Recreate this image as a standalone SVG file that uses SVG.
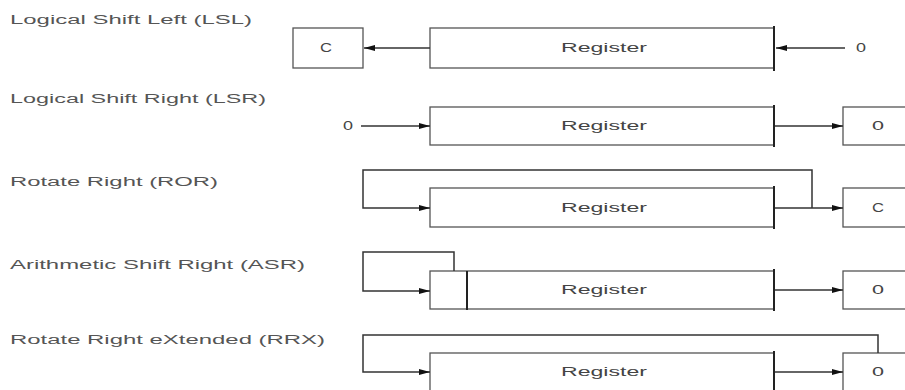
<svg xmlns="http://www.w3.org/2000/svg" width="905" height="390" viewBox="0 0 905 390">
<style>
.lbl{font-family:"Liberation Sans",Arial,sans-serif;font-size:12.5px;fill:#555;}
.reg{font-family:"Liberation Sans",Arial,sans-serif;font-size:12.5px;fill:#444;text-anchor:middle;}
.box{fill:#fff;stroke:#555;stroke-width:1.3;}
.edge{stroke:#222;stroke-width:2;}
.ln{fill:none;stroke:#333;stroke-width:1.3;}
.lp{fill:none;stroke:#333;stroke-width:1.5;}
</style>
<defs>
<marker id="ah" markerUnits="userSpaceOnUse" markerWidth="11" markerHeight="7" refX="11" refY="3.5" orient="auto">
<path d="M0,0.5 L11,3.5 L0,6.5 z" fill="#111"/>
</marker>
</defs>
<rect width="905" height="390" fill="#fff"/>

<g id="labels">
<text class="lbl" x="10" y="24" textLength="242" lengthAdjust="spacingAndGlyphs">Logical Shift Left (LSL)</text>
<text class="lbl" x="10" y="103" textLength="256" lengthAdjust="spacingAndGlyphs">Logical Shift Right (LSR)</text>
<text class="lbl" x="10" y="186" textLength="208" lengthAdjust="spacingAndGlyphs">Rotate Right (ROR)</text>
<text class="lbl" x="10" y="269" textLength="295" lengthAdjust="spacingAndGlyphs">Arithmetic Shift Right (ASR)</text>
<text class="lbl" x="10" y="344" textLength="315" lengthAdjust="spacingAndGlyphs">Rotate Right eXtended (RRX)</text>
</g>

<g id="lsl">
<rect class="box" x="293" y="28" width="70" height="40"/>
<text class="reg" x="326" y="52" textLength="12" lengthAdjust="spacingAndGlyphs">C</text>
<rect class="box" x="430" y="28" width="344" height="40"/>
<line class="edge" x1="774" y1="26" x2="774" y2="71"/>
<text class="reg" x="604" y="52" textLength="86" lengthAdjust="spacingAndGlyphs">Register</text>
<text class="reg" x="861" y="52" textLength="10" lengthAdjust="spacingAndGlyphs">0</text>
</g>

<g id="lsr">
<text class="reg" x="348" y="130" textLength="10" lengthAdjust="spacingAndGlyphs">0</text>
<rect class="box" x="430" y="107" width="344" height="38"/>
<line class="edge" x1="774" y1="105" x2="774" y2="147"/>
<text class="reg" x="604" y="130" textLength="86" lengthAdjust="spacingAndGlyphs">Register</text>
<rect class="box" x="843" y="107" width="70" height="38"/>
<text class="reg" x="878" y="130" textLength="12" lengthAdjust="spacingAndGlyphs">0</text>
</g>

<g id="ror">
<rect class="box" x="430" y="188" width="344" height="39"/>
<line class="edge" x1="774" y1="186" x2="774" y2="229"/>
<text class="reg" x="604" y="212" textLength="86" lengthAdjust="spacingAndGlyphs">Register</text>
<rect class="box" x="843" y="188" width="70" height="39"/>
<text class="reg" x="878" y="212" textLength="12" lengthAdjust="spacingAndGlyphs">C</text>
</g>

<g id="asr">
<rect class="box" x="430" y="271" width="344" height="38"/>
<line class="edge" x1="467" y1="271" x2="467" y2="310"/>
<line class="edge" x1="774" y1="269" x2="774" y2="311"/>
<text class="reg" x="604" y="294" textLength="86" lengthAdjust="spacingAndGlyphs">Register</text>
<rect class="box" x="843" y="271" width="70" height="38"/>
<text class="reg" x="878" y="294" textLength="12" lengthAdjust="spacingAndGlyphs">0</text>
</g>

<g id="rrx">
<rect class="box" x="430" y="353" width="344" height="40"/>
<line class="edge" x1="774" y1="351" x2="774" y2="392"/>
<text class="reg" x="604" y="376" textLength="86" lengthAdjust="spacingAndGlyphs">Register</text>
<rect class="box" x="843" y="353" width="70" height="40"/>
<text class="reg" x="878" y="376" textLength="12" lengthAdjust="spacingAndGlyphs">0</text>
</g>

<g id="connectors">
<line class="ln" x1="430" y1="48" x2="364" y2="48" marker-end="url(#ah)"/>
<line class="ln" x1="845" y1="48" x2="776" y2="48" marker-end="url(#ah)"/>
<line class="ln" x1="361" y1="126" x2="430" y2="126" marker-end="url(#ah)"/>
<line class="ln" x1="775" y1="126" x2="843" y2="126" marker-end="url(#ah)"/>
<path class="lp" d="M812,208 L812,170 L363,170 L363,208 L430,208" marker-end="url(#ah)"/>
<line class="ln" x1="775" y1="208" x2="843" y2="208" marker-end="url(#ah)"/>
<path class="lp" d="M454,271 L454,252 L363,252 L363,291 L430,291" marker-end="url(#ah)"/>
<line class="ln" x1="775" y1="290" x2="843" y2="290" marker-end="url(#ah)"/>
<path class="lp" d="M878,353 L878,335 L363,335 L363,372 L430,372" marker-end="url(#ah)"/>
<line class="ln" x1="775" y1="372" x2="843" y2="372" marker-end="url(#ah)"/>
</g>
</svg>
